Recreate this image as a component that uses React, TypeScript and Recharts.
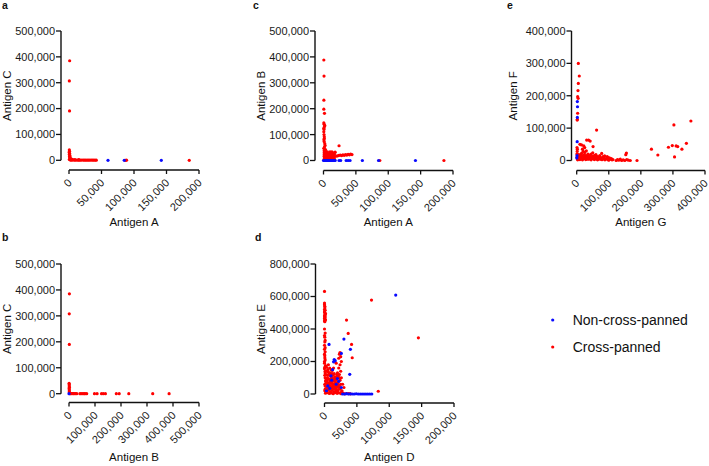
import React from 'react';
import { ScatterChart, Scatter, XAxis, YAxis, ReferenceLine, Legend, Label } from 'recharts';

const FONT = '"Liberation Sans", Arial, Helvetica, sans-serif';
const RED = '#ff0000';
const BLUE = '#0a0aff';
const INK = '#111111';

const SERIES_NAMES = ['Non-cross-panned', 'Cross-panned'];

// tick values
const ticks200k = [0, 50000, 100000, 150000, 200000];
const ticks400k = [0, 100000, 200000, 300000, 400000];
const ticks500k = [0, 100000, 200000, 300000, 400000, 500000];
const ticks800k = [0, 200000, 400000, 600000, 800000];

// ---------- panel a : Antigen A (x) vs Antigen C (y)
const aNon: [number, number][] = [
  [60000, 0], [85000, 0], [142000, 0],
];
const aCross: [number, number][] = [
  [1000, 385000], [500, 307000], [800, 191000],
  [500, 40000], [800, 35000], [300, 30000], [1000, 26000], [500, 22000], [1500, 18000], [700, 14000],
  [2000, 10000], [1200, 7000], [3000, 5000], [500, 3000],
  [2000, 1000], [4000, 500], [6000, 1500], [8000, 800], [10000, 300], [12000, 1200], [14000, 600],
  [16000, 900], [18000, 400], [20000, 1100], [22000, 700], [24000, 500], [26000, 1000], [28000, 300],
  [30000, 800], [32000, 600], [34000, 1200], [36000, 400], [38000, 700], [40000, 500], [42000, 300],
  [5000, 4000], [9000, 3000], [15000, 2500],
  [87000, 0], [88500, 500], [185000, 0],
];

// ---------- panel b : Antigen B (x) vs Antigen C (y)
const bNon: [number, number][] = [
  [0, 0],
];
const bCross: [number, number][] = [
  [1500, 385000], [1000, 308000], [1200, 190000],
  [500, 40000], [1000, 35000], [800, 30000], [1500, 25000], [600, 20000], [1200, 15000], [900, 10000],
  [1500, 5000], [3000, 3000],
  [3000, 0], [6000, 500], [9000, 0], [12000, 800], [15000, 0], [18000, 300], [22000, 0], [26000, 500],
  [30000, 0], [42000, 0], [47000, 0], [53000, 0], [58000, 0], [62000, 0], [68000, 0], [98000, 0],
  [108000, 0], [125000, 0], [132000, 0], [140000, 0], [182000, 0], [193000, 0], [230000, 0],
  [322000, 0], [385000, 0],
];

// ---------- panel c : Antigen A (x) vs Antigen B (y)
const cNon: [number, number][] = [
  [0, 0], [1500, 0], [3000, 0], [4500, 0], [6000, 0], [7500, 0], [9000, 0], [10500, 0], [12000, 0],
  [13500, 0], [15000, 0], [16500, 0], [18000, 0], [24000, 0], [26500, 0], [35000, 0], [38000, 0],
  [41000, 0], [60000, 0], [85000, 0], [142000, 0],
];
const cCross: [number, number][] = [
  [500, 388000], [800, 326000], [600, 233000], [500, 198000], [1500, 182000], [500, 145000],
  [1000, 140000], [2000, 135000], [1500, 131000], [800, 120000], [500, 125000], [500, 111000],
  [800, 100000], [1200, 92000], [1200, 85000], [700, 80000],
  [1000, 73000], [2000, 65000], [2500, 58000], [1500, 52000], [500, 47000], [3000, 42000], [1000, 38000],
  [1000, 30000], [2000, 25000], [3000, 20000], [4000, 28000], [5000, 15000], [6000, 22000],
  [7000, 18000], [8000, 26000], [9000, 12000], [10000, 20000], [11000, 30000], [12000, 16000],
  [13000, 24000], [14000, 28000], [15000, 20000], [16000, 30000], [17000, 25000], [18000, 32000],
  [2000, 10000], [4000, 8000], [6000, 12000], [8000, 6000], [10000, 9000], [3500, 14000],
  [7500, 25000], [12500, 10000],
  [1000, 5000], [3000, 3000], [5000, 6000], [7000, 4000], [9000, 3000], [11000, 5000], [13000, 4000],
  [15000, 6000], [17000, 5000], [1000, 15000], [5000, 30000], [9000, 24000], [13000, 33000],
  [15000, 12000], [17000, 14000], [2000, 35000], [6000, 33000], [10000, 33000], [4000, 18000],
  [8000, 20000], [12000, 22000], [16000, 22000], [3000, 37000], [1000, 22000],
  [24000, 57000],
  [20000, 17000], [22000, 18000], [24000, 20000], [26000, 21000], [28000, 19000], [30000, 22000],
  [32000, 20000], [34000, 23000], [36000, 21000], [38000, 24000], [40000, 22000], [42000, 25000],
  [44000, 23000],
  [87000, 0], [186000, 0],
];

// ---------- panel d : Antigen D (x) vs Antigen E (y)
const dNon: [number, number][] = [
  [7000, 305000], [30000, 338000], [40000, 275000], [26000, 250000], [15000, 212000], [16500, 205000],
  [14000, 198000], [39000, 121000], [12500, 150000], [10000, 112000], [20000, 95000], [22000, 78000],
  [5000, 50000], [8000, 35000], [18000, 60000], [11000, 85000], [3000, 20000], [26000, 40000],
  [110000, 609000],
  [28000, 0], [31000, 0], [34000, 2000], [37000, 0], [40000, 1000], [43000, 0], [46000, 0],
  [49000, 1500], [52000, 0], [55000, 0], [58000, 0], [61000, 0], [64000, 0], [67000, 0],
  [70000, 0], [73000, 0],
];
const dCross: [number, number][] = [
  [0, 631000], [0, 560000], [0, 550000], [500, 540000], [500, 530000], [0, 520000], [1000, 515000],
  [0, 505000], [500, 500000], [1500, 495000], [1000, 490000], [500, 485000], [0, 480000],
  [1000, 475000], [500, 470000], [0, 465000], [1000, 460000], [1500, 455000], [0, 450000],
  [500, 445000], [0, 400000], [1000, 375000], [0, 360000], [500, 350000], [1000, 330000],
  [500, 320000], [0, 300000], [1000, 285000], [0, 275000], [1000, 260000], [0, 245000],
  [500, 235000], [500, 222000], [1000, 210000], [0, 200000], [0, 190000], [1500, 175000],
  [500, 165000], [0, 155000],
  [24000, 255000], [23000, 245000], [25000, 230000], [22000, 220000], [26000, 200000],
  [24000, 180000], [22000, 160000], [25000, 140000], [23000, 120000], [26000, 100000],
  [24000, 85000], [21000, 70000], [20000, 130000], [19000, 105000], [18000, 190000],
  [34000, 455000], [36600, 373000], [41800, 305000], [42800, 223000], [72600, 578000],
  [83000, 17000], [145000, 346000], [28000, 60000], [30000, 40000], [27000, 20000],
  [2000, 120000], [4000, 100000], [6000, 135000], [8000, 90000], [10000, 110000], [12000, 125000],
  [14000, 95000], [16000, 105000], [3000, 80000], [5000, 70000], [7000, 60000], [9000, 75000],
  [11000, 65000], [13000, 80000], [15000, 55000], [17000, 70000], [1000, 50000], [3500, 40000],
  [6500, 45000], [9500, 35000], [12500, 50000], [15500, 30000], [18500, 45000], [2500, 20000],
  [5500, 25000], [8500, 15000], [11500, 22000], [14500, 12000], [17500, 18000], [20500, 25000],
  [1500, 5000], [4500, 8000], [7500, 3000], [10500, 6000], [13500, 2000], [16500, 9000],
  [19500, 4000], [22500, 7000], [25500, 2000], [28500, 5000], [31500, 1000], [34500, 3000],
  [37500, 2000], [40000, 1000],
  [6000, 180000], [10000, 150000], [14000, 160000], [12000, 145000], [8000, 115000],
  [18000, 85000], [20000, 50000], [4000, 60000], [2000, 95000], [16000, 40000],
  [1000, 130000], [3000, 140000], [5000, 115000], [7000, 125000], [9000, 130000], [11000, 100000],
  [13000, 115000], [15000, 125000], [17000, 90000], [19000, 120000], [21000, 110000],
  [23000, 100000], [25000, 60000], [2000, 65000], [4000, 85000], [6000, 95000], [8000, 70000],
  [10000, 85000], [12000, 75000], [14000, 60000], [16000, 80000], [18000, 30000], [20000, 15000],
  [22000, 40000], [24000, 30000], [26000, 10000], [1000, 30000], [3000, 10000], [5000, 40000],
  [7000, 30000], [9000, 50000], [11000, 40000], [13000, 30000], [15000, 45000], [17000, 55000],
  [19000, 65000], [21000, 55000], [23000, 50000], [5000, 150000], [3000, 165000], [8000, 160000],
  [1000, 100000], [1500, 80000], [500, 60000], [500, 20000], [500, 115000], [1000, 140000],
];

// ---------- panel e : Antigen G (x) vs Antigen F (y)
const eNon: [number, number][] = [
  [2000, 182000], [2500, 166000], [2000, 133000], [1500, 58000], [1000, 15000], [500, 8000],
];
const eCross: [number, number][] = [
  [5000, 300000], [8000, 261000], [5000, 238000], [4000, 216000], [3000, 197000], [4500, 192000],
  [3000, 146000], [2000, 127000], [1500, 125000],
  [10000, 50000], [15000, 48000], [22000, 45000], [31000, 63000], [37000, 63000], [42000, 60000],
  [51000, 43000], [62000, 94000], [18000, 35000], [25000, 40000], [45000, 20000], [40000, 8000],
  [1000, 40000], [2000, 35000], [1500, 28000], [500, 20000], [1000, 10000], [2000, 5000],
  [5000, 5000], [8000, 12000], [10000, 3000], [12000, 18000], [15000, 8000], [18000, 2000],
  [20000, 14000], [22000, 6000], [25000, 10000], [28000, 3000], [30000, 15000], [32000, 7000],
  [35000, 12000], [38000, 4000], [40000, 16000], [42000, 9000], [45000, 2000], [48000, 11000],
  [50000, 6000], [52000, 14000], [55000, 3000], [58000, 10000], [60000, 5000], [62000, 12000],
  [65000, 2000], [68000, 8000], [70000, 4000], [72000, 15000], [75000, 6000], [78000, 22000],
  [80000, 3000], [85000, 8000], [88000, 2000], [92000, 6000], [95000, 12000], [98000, 3000],
  [102000, 8000], [105000, 4000], [110000, 2000], [15000, 22000], [25000, 25000], [35000, 20000],
  [60000, 18000], [50000, 24000],
  [3000, 2000], [6000, 18000], [12000, 10000], [16000, 15000], [24000, 18000], [28000, 12000],
  [33000, 4000], [36000, 16000], [44000, 13000], [47000, 7000], [53000, 9000], [57000, 16000],
  [63000, 7000], [66000, 12000], [74000, 10000], [77000, 3000], [82000, 12000], [87000, 14000],
  [90000, 4000], [97000, 9000], [100000, 1000], [108000, 6000], [113000, 3000], [20000, 28000],
  [30000, 30000],
  [123000, 0], [127000, 3000], [131000, 1000], [136000, 4000], [140000, 0], [145000, 2000],
  [150000, 0], [156000, 3000], [161000, 1000], [167000, 0],
  [153000, 18000], [155000, 23000], [188000, 0],
  [233000, 35000], [253000, 17000], [286000, 41000], [298000, 46000], [303000, 110000],
  [305000, 11000], [310000, 45000], [315000, 43000], [328000, 35000], [342000, 53000],
  [356000, 122000],
];

const toPts = (arr: [number, number][]) => arr.map(([x, y]) => ({ x, y }));
const fmt = (v: number) => v.toLocaleString('en-US');

const dot = (color: string) => (props: any) => {
  if (props.cx == null || props.cy == null) return <g />;
  return <circle cx={props.cx} cy={props.cy} r={1.6} fill={color} />;
};

type PanelCfg = {
  letter: string;
  letterX: number;
  left: number;
  top: number;
  width: number;
  height: number;
  axisX: number;
  x0: number;
  xEnd: number;
  yEnd: number;
  y0: number;
  axisY: number;
  xTicks: number[];
  yTicks: number[];
  xTitle: string;
  yTitle: string;
  xTitleY: number;
  yTitleX: number;
  non: [number, number][];
  cross: [number, number][];
  legend?: boolean;
};

const renderLegend = (props: any) => {
  const payload: any[] = props.payload || [];
  const ordered = SERIES_NAMES.map((n) => payload.find((p) => p.value === n)).filter(Boolean);
  return (
    <div style={{ fontFamily: FONT, fontSize: 14, color: INK }}>
      {ordered.map((e: any) => (
        <div key={e.value} style={{ display: 'flex', alignItems: 'center', height: 26.7 }}>
          <svg width={10} height={10} style={{ display: 'block' }}>
            <circle cx={4.7} cy={5} r={1.6} fill={e.color} />
          </svg>
          <span style={{ marginLeft: 14.7, lineHeight: '16px' }}>{e.value}</span>
        </div>
      ))}
    </div>
  );
};

function Panel(p: PanelCfg) {
  const xMax = p.xTicks[p.xTicks.length - 1];
  const yMax = p.yTicks[p.yTicks.length - 1];
  const xLo = (-xMax * (p.x0 - p.axisX)) / (p.xEnd - p.x0);
  const yLo = (-yMax * (p.axisY - p.y0)) / (p.y0 - p.yEnd);
  const xTitleX = (p.x0 + p.xEnd) / 2;
  const yTitleY = (p.yEnd + p.y0) / 2;
  const tickStyle = { fill: '#1a1a1a', fontSize: 11, fontFamily: FONT };

  return (
    <div style={{ position: 'absolute', left: p.left, top: p.top, width: p.width, height: p.height }}>
      <ScatterChart
        width={p.width}
        height={p.height}
        margin={{ top: p.yEnd, right: p.width - p.xEnd, bottom: 0, left: 0 }}
      >
        <XAxis
          type="number"
          dataKey="x"
          domain={[xLo, xMax]}
          allowDataOverflow
          ticks={p.xTicks}
          interval={0}
          height={p.height - p.axisY}
          axisLine={false}
          stroke={INK}
          tickLine={{ stroke: INK, strokeWidth: 1.3 }}
          tickSize={4}
          tickMargin={4}
          tick={{ ...tickStyle, angle: -45, textAnchor: 'end', verticalAnchor: 'middle', dx: -2 }}
          tickFormatter={fmt}
        >
          <Label
            content={() => (
              <text
                x={xTitleX}
                y={p.xTitleY}
                textAnchor="middle"
                dominantBaseline="central"
                fontSize={11.5}
                fontFamily={FONT}
                fill={INK}
              >
                {p.xTitle}
              </text>
            )}
          />
        </XAxis>
        <YAxis
          type="number"
          dataKey="y"
          domain={[yLo, yMax]}
          allowDataOverflow
          ticks={p.yTicks}
          interval={0}
          width={p.axisX}
          axisLine={false}
          stroke={INK}
          tickLine={{ stroke: INK, strokeWidth: 1.3 }}
          tickSize={5}
          tickMargin={1}
          tick={tickStyle}
          tickFormatter={fmt}
        >
          <Label
            content={() => (
              <text
                x={p.yTitleX}
                y={yTitleY}
                transform={`rotate(-90 ${p.yTitleX} ${yTitleY})`}
                textAnchor="middle"
                dominantBaseline="central"
                fontSize={11.5}
                fontFamily={FONT}
                fill={INK}
              >
                {p.yTitle}
              </text>
            )}
          />
        </YAxis>
        <ReferenceLine
          segment={[{ x: xLo, y: 0 }, { x: xLo, y: yMax }]}
          stroke={INK}
          strokeWidth={1.4}
        />
        <ReferenceLine
          segment={[{ x: 0, y: yLo }, { x: xMax, y: yLo }]}
          stroke={INK}
          strokeWidth={1.4}
        />
        <Scatter
          name={SERIES_NAMES[1]}
          data={toPts(p.cross)}
          fill={RED}
          shape={dot(RED)}
          isAnimationActive={false}
        />
        <Scatter
          name={SERIES_NAMES[0]}
          data={toPts(p.non)}
          fill={BLUE}
          shape={dot(BLUE)}
          isAnimationActive={false}
        />
        {p.legend ? (
          <Legend
            layout="vertical"
            align="center"
            verticalAlign="middle"
            wrapperStyle={{ left: 318, top: 75, width: 180 }}
            content={renderLegend}
          />
        ) : null}
      </ScatterChart>
      <div
        style={{
          position: 'absolute',
          left: p.letterX,
          top: 0,
          fontFamily: FONT,
          fontWeight: 'bold',
          fontSize: 10.5,
          lineHeight: '10px',
          color: INK,
        }}
      >
        {p.letter}
      </div>
    </div>
  );
}

const panels: PanelCfg[] = [
  {
    letter: 'a', letterX: 2, left: 0, top: 0, width: 230, height: 232,
    axisX: 61, x0: 69, xEnd: 199, yEnd: 31, y0: 160.3, axisY: 170,
    xTicks: ticks200k, yTicks: ticks500k, xTitle: 'Antigen A', yTitle: 'Antigen C',
    xTitleY: 221.7, yTitleX: 7.5, non: aNon, cross: aCross,
  },
  {
    letter: 'c', letterX: 23, left: 230, top: 0, width: 240, height: 232,
    axisX: 85, x0: 93.5, xEnd: 223, yEnd: 31, y0: 160.5, axisY: 170.5,
    xTicks: ticks200k, yTicks: ticks500k, xTitle: 'Antigen A', yTitle: 'Antigen B',
    xTitleY: 221.7, yTitleX: 30.7, non: cNon, cross: cCross,
  },
  {
    letter: 'e', letterX: 37, left: 470, top: 0, width: 239, height: 232,
    axisX: 101.5, x0: 106.7, xEnd: 235, yEnd: 31, y0: 160.5, axisY: 170.5,
    xTicks: ticks400k, yTicks: ticks400k, xTitle: 'Antigen G', yTitle: 'Antigen F',
    xTitleY: 221.7, yTitleX: 43.3, non: eNon, cross: eCross,
  },
  {
    letter: 'b', letterX: 2, left: 0, top: 232, width: 230, height: 234,
    axisX: 61, x0: 69, xEnd: 199, yEnd: 32, y0: 161.7, axisY: 170.5,
    xTicks: ticks500k, yTicks: ticks500k, xTitle: 'Antigen B', yTitle: 'Antigen C',
    xTitleY: 224.7, yTitleX: 7.5, non: bNon, cross: bCross,
  },
  {
    letter: 'd', letterX: 25, left: 230, top: 232, width: 479, height: 234,
    axisX: 85.5, x0: 94.5, xEnd: 224, yEnd: 32, y0: 162, axisY: 171,
    xTicks: ticks200k, yTicks: ticks800k, xTitle: 'Antigen D', yTitle: 'Antigen E',
    xTitleY: 224.7, yTitleX: 30.7, non: dNon, cross: dCross, legend: true,
  },
];

export default function App() {
  return (
    <div
      style={{
        position: 'absolute',
        left: 0,
        top: 0,
        width: 709,
        height: 466,
        background: '#ffffff',
        overflow: 'hidden',
      }}
    >
      {panels.map((p) => (
        <Panel key={p.letter} {...p} />
      ))}
    </div>
  );
}
